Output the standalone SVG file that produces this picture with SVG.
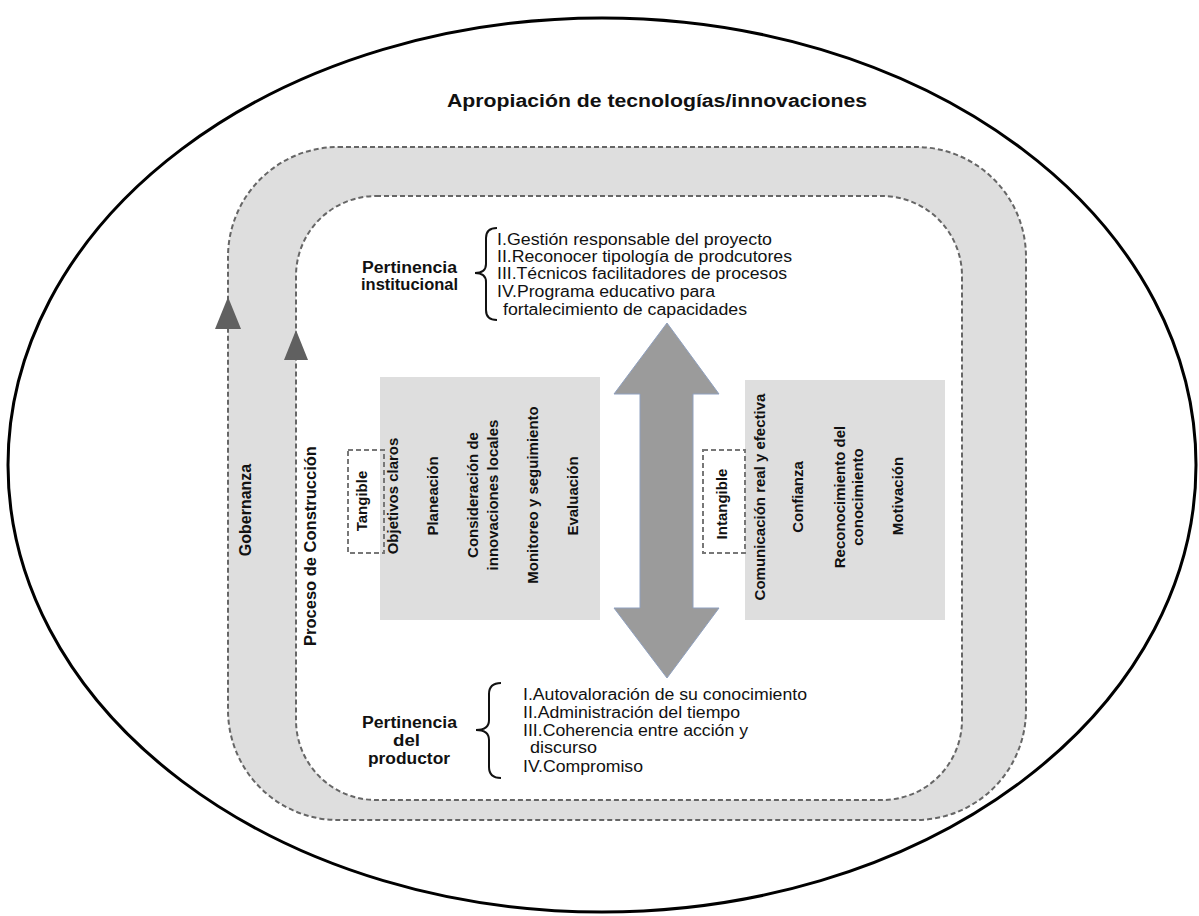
<svg xmlns="http://www.w3.org/2000/svg" width="1199" height="916" viewBox="0 0 1199 916">
<style>
text{font-family:"Liberation Sans",Arial,sans-serif;fill:#111}
.b{font-weight:bold}
.t15{font-size:15px}
.t16{font-size:16px}
.dash{fill:none;stroke:#777;stroke-width:2;stroke-dasharray:5 3}
.box{fill:#dedede}
.tri{fill:#606060}
.brace{fill:none;stroke:#111;stroke-width:2}
</style>
<rect width="1199" height="916" fill="#fff"/>
<g id="outer-ellipse">
<ellipse cx="602" cy="465" rx="594" ry="447" fill="none" stroke="#000" stroke-width="3"/>
<text class="b" x="447" y="107" font-size="18" textLength="420" lengthAdjust="spacingAndGlyphs">Apropiación de tecnologías/innovaciones</text>
</g>
<g id="band">
<rect x="228" y="147" width="798" height="673" rx="110" ry="110" fill="#dedede" stroke="#666" stroke-width="2" stroke-dasharray="5 3"/>
<rect x="296" y="196" width="666" height="604" rx="80" ry="80" fill="#fff" stroke="#666" stroke-width="2" stroke-dasharray="5 3"/>
</g>
<g id="connectors">
<polygon class="tri" points="228,297 215,329 241,329"/>
<polygon class="tri" points="296,330 284,360 308,360"/>
<polygon points="667,323 719,394 693,394 693,608 719,608 667,678 614,608 640,608 640,394 614,394" fill="#9b9b9b" stroke="#8fa0bf" stroke-width="1"/>
</g>
<g id="gobernanza">
<text class="b" font-size="16" text-anchor="middle" transform="translate(251,510) rotate(-90)">Gobernanza</text>
</g>
<g id="proceso">
<text class="b" font-size="16.5" text-anchor="middle" transform="translate(316,546) rotate(-90)">Proceso de Construcción</text>
</g>
<g id="pertinencia-institucional">
<text class="b t16" x="362" y="273" textLength="95" lengthAdjust="spacingAndGlyphs">Pertinencia</text>
<text class="b t16" x="361" y="290" textLength="97" lengthAdjust="spacingAndGlyphs">institucional</text>
<path class="brace" d="M497,228 Q486,228 486,238 L486,264 Q486,273 475,273 Q486,273 486,282 L486,310 Q486,320 497,320"/>
<g class="t16">
<text x="497" y="245" textLength="275" lengthAdjust="spacingAndGlyphs">I.Gestión responsable del proyecto</text>
<text x="497" y="262" textLength="295" lengthAdjust="spacingAndGlyphs">II.Reconocer tipología de prodcutores</text>
<text x="497" y="279" textLength="290" lengthAdjust="spacingAndGlyphs">III.Técnicos facilitadores de procesos</text>
<text x="497" y="297" textLength="218" lengthAdjust="spacingAndGlyphs">IV.Programa educativo para</text>
<text x="503" y="315" textLength="244" lengthAdjust="spacingAndGlyphs">fortalecimiento de capacidades</text>
</g>
</g>
<g id="tangible">
<rect class="box" x="380" y="377" width="220" height="243"/>
<rect class="dash" x="348" y="450" width="36" height="103"/>
<text class="b t15" text-anchor="middle" transform="translate(367,501) rotate(-90)">Tangible</text>
<g class="b t15" text-anchor="middle">
<text transform="translate(398,496) rotate(-90)">Objetivos claros</text>
<text transform="translate(438,496) rotate(-90)">Planeación</text>
<text transform="translate(478,495) rotate(-90)">Consideración de</text>
<text transform="translate(498,495) rotate(-90)">innovaciones locales</text>
<text transform="translate(538,495) rotate(-90)">Monitoreo y seguimiento</text>
<text transform="translate(578,496) rotate(-90)">Evaluación</text>
</g>
</g>
<g id="intangible">
<rect class="box" x="745" y="380" width="200" height="240"/>
<rect class="dash" x="703" y="450" width="42" height="103"/>
<text class="b t15" text-anchor="middle" transform="translate(727,504) rotate(-90)">Intangible</text>
<g class="b t15" text-anchor="middle">
<text transform="translate(765,497) rotate(-90)">Comunicación real y efectiva</text>
<text transform="translate(803,497) rotate(-90)">Confianza</text>
<text transform="translate(845,497) rotate(-90)">Reconocimiento del</text>
<text transform="translate(863,497) rotate(-90)">conocimiento</text>
<text transform="translate(903,496) rotate(-90)">Motivación</text>
</g>
</g>
<g id="pertinencia-productor">
<text class="b t16" x="362" y="728" textLength="95" lengthAdjust="spacingAndGlyphs">Pertinencia</text>
<text class="b t16" x="393" y="746" textLength="27" lengthAdjust="spacingAndGlyphs">del</text>
<text class="b t16" x="368" y="764" textLength="82" lengthAdjust="spacingAndGlyphs">productor</text>
<path class="brace" d="M501,683 Q489,683 489,694 L489,720 Q489,730 476,730 Q489,730 489,740 L489,767 Q489,778 501,778"/>
<g class="t16">
<text x="523" y="700" textLength="284" lengthAdjust="spacingAndGlyphs">I.Autovaloración de su conocimiento</text>
<text x="523" y="718" textLength="217" lengthAdjust="spacingAndGlyphs">II.Administración del tiempo</text>
<text x="523" y="736" textLength="225" lengthAdjust="spacingAndGlyphs">III.Coherencia entre acción y</text>
<text x="530" y="753" textLength="67" lengthAdjust="spacingAndGlyphs">discurso</text>
<text x="523" y="772" textLength="120" lengthAdjust="spacingAndGlyphs">IV.Compromiso</text>
</g>
</g>
</svg>
